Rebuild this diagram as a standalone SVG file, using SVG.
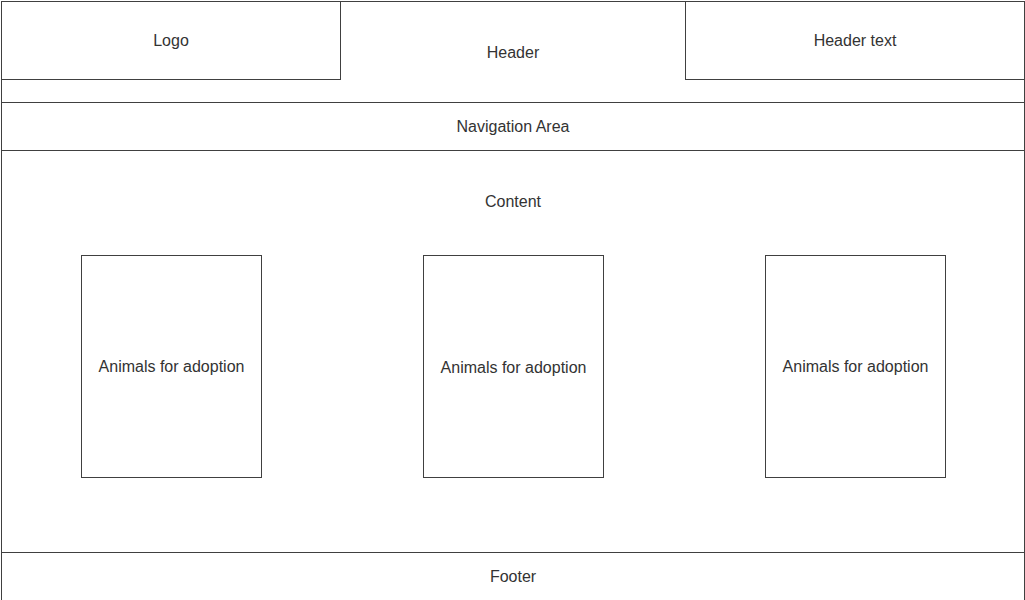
<svg xmlns="http://www.w3.org/2000/svg" width="1025" height="600" viewBox="0 0 1025 600">
<style>
  rect { fill: #ffffff; stroke: #404040; stroke-width: 1; }
  text { font-family: "Liberation Sans", Arial, sans-serif; font-size: 16px; fill: #333333; text-anchor: middle; }
</style>
<rect x="0" y="0" width="1025" height="600" style="stroke:none"/>
<g id="header">
  <rect x="1.5" y="1.5" width="1023" height="101"/>
  <text x="513" y="58">Header</text>
</g>
<g id="logo">
  <rect x="1.5" y="1.5" width="339" height="78"/>
  <text x="171" y="46">Logo</text>
</g>
<g id="header-text">
  <rect x="685.5" y="1.5" width="339" height="78"/>
  <text x="855" y="46">Header text</text>
</g>
<g id="navigation">
  <rect x="1.5" y="102.5" width="1023" height="48"/>
  <text x="513" y="132">Navigation Area</text>
</g>
<g id="content">
  <rect x="1.5" y="150.5" width="1023" height="402"/>
  <text x="513" y="207">Content</text>
</g>
<g id="card1">
  <rect x="81.5" y="255.5" width="180" height="222"/>
  <text x="171.5" y="372">Animals for adoption</text>
</g>
<g id="card2">
  <rect x="423.5" y="255.5" width="180" height="222"/>
  <text x="513.5" y="373">Animals for adoption</text>
</g>
<g id="card3">
  <rect x="765.5" y="255.5" width="180" height="222"/>
  <text x="855.5" y="372">Animals for adoption</text>
</g>
<g id="footer">
  <rect x="1.5" y="552.5" width="1023" height="60"/>
  <text x="513" y="582">Footer</text>
</g>
<g id="connectors"></g>
</svg>
